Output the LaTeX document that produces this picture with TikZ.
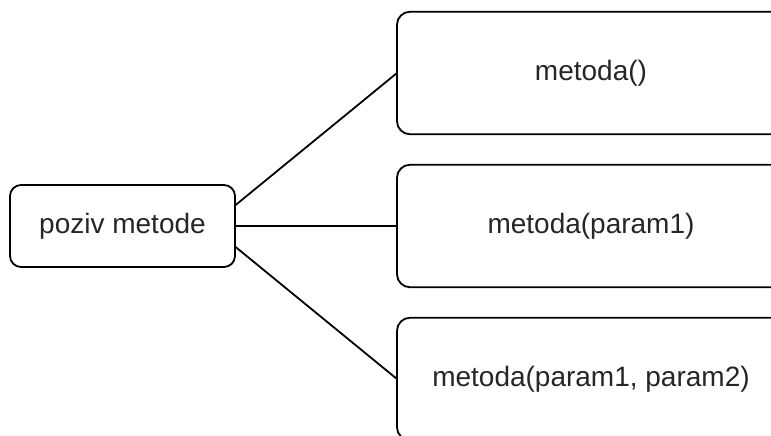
\documentclass[tikz,border=0pt]{standalone}
\usepackage{fontspec}
\setmainfont{Liberation Sans}
\usepackage{tikz}
\usetikzlibrary{positioning,calc}

\begin{document}
\begin{tikzpicture}[x=1pt, y=-1pt,
        box/.style={draw, line width=1.8pt, rounded corners=13pt, inner sep=0pt, outer sep=0pt,
                    text=black!85, font=\fontsize{28}{34}\selectfont},
        call/.style={box, minimum width=225pt, minimum height=82pt, rounded corners=11pt},
        method/.style={box, minimum width=388pt, minimum height=122.5pt},
        link/.style={line width=1.8pt}]
            \useasboundingbox (0,0) rectangle (771,436);
            \clip (0,0) rectangle (771,436);

            \node (poziv) [call] at (122.5,226) {poziv metode};
            \node (m1) [method, right=162pt of poziv] {metoda(param1)};
            \node (m0) [method, above=30.5pt of m1] {metoda()};
            \node (m2) [method, below=30.5pt of m1] {metoda(param1, param2)};

            \draw[link] ($(poziv.north east)!0.25!(poziv.south east)$) -- (m0.west);
            \draw[link] (poziv.east) -- (m1.west);
            \draw[link] ($(poziv.north east)!0.75!(poziv.south east)$) -- (m2.west);
        \end{tikzpicture}
\end{document}
